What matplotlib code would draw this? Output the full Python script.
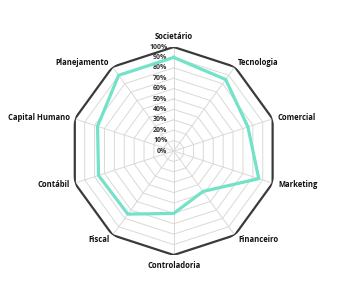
import numpy as np
import matplotlib
matplotlib.use('Agg')
import matplotlib.pyplot as plt

# categories clockwise from the top
categories = ['Societário', 'Tecnologia', 'Comercial', 'Marketing', 'Financeiro',
              'Controladoria', 'Fiscal', 'Contábil', 'Capital Humano', 'Planejamento']
values = [0.90, 0.85, 0.75, 0.86, 0.48, 0.60, 0.75, 0.76, 0.77, 0.90]
target = [1.0] * 10
ticks = [0.0, 0.1, 0.2, 0.3, 0.4, 0.5, 0.6, 0.7, 0.8, 0.9, 1.0]
tick_labels = ['0%', '10%', '20%', '30%', '40%', '50%', '60%', '70%', '80%', '90%', '100%']

plt.rcParams['font.family'] = ['Open Sans', 'DejaVu Sans']

fig = plt.figure(figsize=(3.45, 2.82), dpi=100)
ax = fig.add_axes([0.202, 0.0957, 0.603, 0.7376], projection='polar')
ax.set_theta_offset(np.pi / 2)
ax.set_theta_direction(-1)
ax.set_ylim(0, 1)
ax.grid(False)
ax.spines['polar'].set_visible(False)
ax.set_xticks([])
ax.set_yticks([])
ax.patch.set_visible(False)

n = len(categories)
theta = np.arange(n) * 2 * np.pi / n
theta_closed = np.append(theta, theta[0])

# grid rings
for t in ticks[1:-1]:
    ax.plot(theta_closed, [t] * (n + 1), color='#d9d9d9', lw=0.7, zorder=1)
# spokes
for th in theta:
    ax.plot([th, th], [0, 1], color='#d9d9d9', lw=0.7, zorder=1)

# outer polygon
ax.plot(theta_closed, target + target[:1], color='#3a3a3a', lw=1.6, zorder=3)
# data series
ax.plot(theta_closed, values + values[:1], color='#72e2c8', lw=2.3, zorder=4)

# radial labels
for t, lab in zip(ticks, tick_labels):
    ax.annotate(lab, xy=(0, t), xytext=(-4.5, 0), textcoords='offset points',
                ha='right', va='center', fontsize=5.0, color='#333333',
                fontweight='bold')

# category labels
for th, lab in zip(theta, categories):
    s, c = np.sin(th), np.cos(th)
    if s > 0.1:
        ha = 'left'
    elif s < -0.1:
        ha = 'right'
    else:
        ha = 'center'
    if c > 0.9:
        va = 'bottom'
    elif c < -0.9:
        va = 'top'
    else:
        va = 'center'
    ax.annotate(lab, xy=(th, 1.0), xytext=(4 * s, 4 * c), textcoords='offset points',
                ha=ha, va=va, fontsize=5.5, fontweight='bold', color='#111111')

fig.savefig('out.png', dpi=100)
